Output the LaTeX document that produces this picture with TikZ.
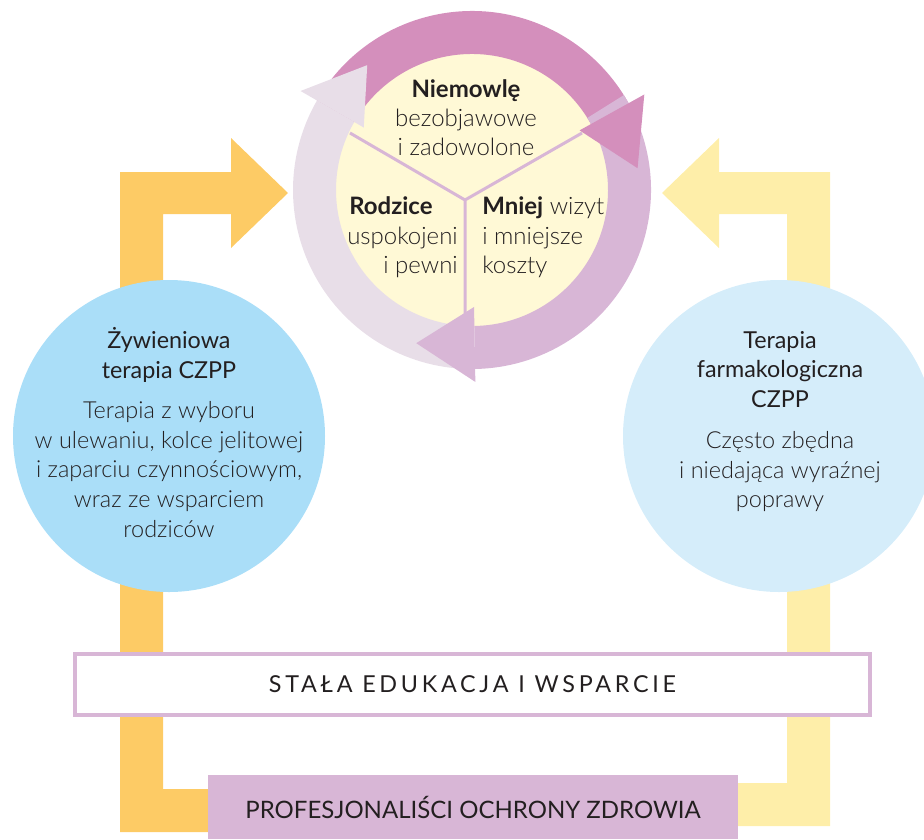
\documentclass[tikz,border=0pt]{standalone}
\usepackage{fontspec}
\setmainfont{Lato}
\newfontfamily\lalight{Lato Light}
\definecolor{txt}{HTML}{231F20}
\definecolor{yelD}{HTML}{FDCB65}
\definecolor{yelL}{HTML}{FEEEA9}
\definecolor{blueD}{HTML}{AADEF8}
\definecolor{blueL}{HTML}{D5EDFA}
\definecolor{ringY}{HTML}{FFF9D6}
\definecolor{pinkD}{HTML}{D48FBC}
\definecolor{purM}{HTML}{D8B6D6}
\definecolor{grayL}{HTML}{E8DEE8}
\tikzset{
  ln/.style={inner sep=0pt, text=txt, anchor=base},
  hbold/.style={ln, font=\fontsize{18}{20}\selectfont\bfseries},
  hlight/.style={ln, font=\fontsize{18}{20}\selectfont\lalight},
  ctitle/.style={ln, font=\fontsize{17.5}{20}\selectfont},
  cbody/.style={ln, font=\fontsize{17.6}{20}\selectfont\lalight},
  bigcirc/.style={circle, inner sep=0pt, minimum size=234pt},
}
\begin{document}
\begin{tikzpicture}[x=0.75pt, y=-0.75pt]
\useasboundingbox (0,0) rectangle (924,839);
% yellow L arrows
\fill[yelD] (120,832) -- (120,172) -- (231,172) -- (231,138) -- (288,193) -- (231,248) -- (231,214) -- (163,214) -- (163,789) -- (300,789) -- (300,832) -- cycle;
\fill[yelL] (830,826) -- (830,172) -- (719,172) -- (719,138) -- (662,193) -- (719,248) -- (719,214) -- (787,214) -- (787,783) -- (650,783) -- (650,826) -- cycle;
% circles
\node[bigcirc, fill=blueD] (nutr) at (169,436) {};
\node[bigcirc, fill=blueL] (farm) at (779,436) {};
% ring
\begin{scope}[shift={(472,190)}, yscale=-1]
  \fill[ringY] (0,0) circle[radius=138];
  \fill[pinkD] (150:179) arc[start angle=150, end angle=29, radius=179] -- (29:136) arc[start angle=29, end angle=150, radius=136] -- cycle;
  \fill[purM] (32:179) arc[start angle=32, end angle=-89, radius=179] -- (-89:136) arc[start angle=-89, end angle=32, radius=136] -- cycle;
  \fill[grayL] (-95:179) arc[start angle=-95, end angle=-210, radius=179] -- (-210:136) arc[start angle=-210, end angle=-95, radius=136] -- cycle;
\end{scope}
\coordinate (hub) at (465,200);
\coordinate (dl) at (350,133);
\coordinate (dr) at (582,133);
\coordinate (db) at (465,322);
\draw[purM, line width=2.25pt] (dl) -- (hub) -- (dr) (hub) -- (db);
\begin{scope}[shift={(472,190)}, yscale=-1]
  \fill[pinkD] (29:123) -- (29:197) -- (7.5:167) -- cycle;
  \fill[purM] (-89:117) -- (-89:192) -- (-110:163) -- cycle;
  \fill[grayL] (150:125) -- (150:198) -- (130:163) -- cycle;
\end{scope}
% ring texts
\node[hbold] (t1) at (466,97) {Niemowlę};
\node[hlight] (t2) at (466,126) {bezobjawowe};
\node[hlight] (t3) at (466,155) {i zadowolone};
\node[hbold, anchor=base west] (l1) at (349,214) {Rodzice};
\node[hlight, anchor=base east] (l2) at (458,244) {uspokojeni};
\node[hlight, anchor=base east] (l3) at (458,273) {i pewni};
\node[hbold, anchor=base west] (r1) at (482,214) {Mniej\lalight\mdseries{} wizyt};
\node[hlight, anchor=base west] (r2) at (482,244) {i mniejsze};
\node[hlight, anchor=base west] (r3) at (482,273) {koszty};
% left circle texts
\node[ctitle] (a1) at (169,348) {Żywieniowa};
\node[ctitle] (a2) at (169,378) {terapia CZPP};
\node[cbody] (a3) at (169,418) {Terapia z wyboru};
\node[cbody] (a4) at (169,448) {w ulewaniu, kolce jelitowej};
\node[cbody] (a5) at (169,477) {i zaparciu czynnościowym,};
\node[cbody] (a6) at (169,507) {wraz ze wsparciem};
\node[cbody] (a7) at (169,537) {rodziców};
% right circle texts
\node[ctitle] (b1) at (780,348) {Terapia};
\node[ctitle] (b2) at (780,377) {farmakologiczna};
\node[ctitle] (b3) at (780,407) {CZPP};
\node[cbody] (b4) at (780,448) {Często zbędna};
\node[cbody] (b5) at (780,478) {i niedająca wyraźnej};
\node[cbody] (b6) at (780,507) {poprawy};
% boxes
\node[draw=purM, line width=3pt, fill=white, inner sep=0pt, minimum width=596.25pt, minimum height=45.75pt, text=txt, font=\fontsize{17.5}{20}\selectfont\addfontfeature{LetterSpace=16}] (edu) at (472.5,684.5) {STAŁA EDUKACJA I WSPARCIE};
\node[fill=purM, inner sep=0pt, minimum width=397.5pt, minimum height=48pt, text=txt, font=\fontsize{18}{20}\selectfont] (prof) at (473,807) {PROFESJONALIŚCI OCHRONY ZDROWIA};
\end{tikzpicture}
\end{document}
